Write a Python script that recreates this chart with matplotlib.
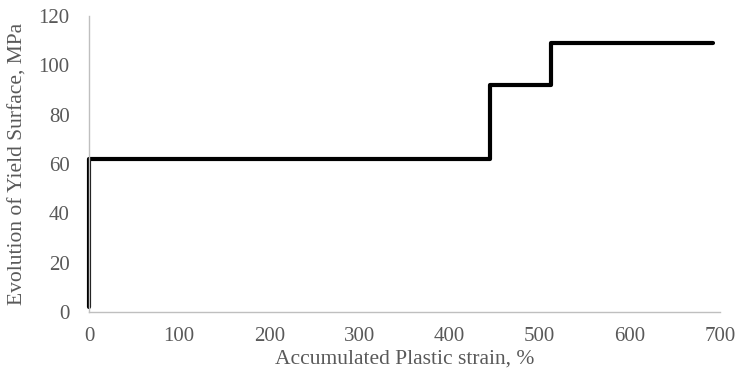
import matplotlib
matplotlib.use("Agg")
import matplotlib.pyplot as plt

# accumulated plastic strain (%) and yield surface (MPa)
strain = [0, 0, 445, 445, 512, 512, 692]
yield_surface = [2, 62, 62, 92, 92, 109, 109]

x_ticks = [0, 100, 200, 300, 400, 500, 600, 700]
y_ticks = [0, 20, 40, 60, 80, 100, 120]

plt.rcParams['font.family'] = ['Liberation Serif', 'DejaVu Serif']
grey = '#595959'

fig = plt.figure(figsize=(7.41, 3.78), dpi=100)
ax = fig.add_axes([0.1201, 0.1746, 0.8516, 0.783])

ax.plot(strain, yield_surface, color='black', linewidth=3.0,
        solid_joinstyle='round', solid_capstyle='round', clip_on=False)

ax.set_xlim(0, 700)
ax.set_ylim(0, 120)
ax.set_xticks(x_ticks)
ax.set_yticks(y_ticks)
ax.tick_params(length=0, labelsize=15, colors=grey)
ax.tick_params(axis='x', pad=11)
ax.tick_params(axis='y', pad=14)

for side in ['top', 'right']:
    ax.spines[side].set_visible(False)
for side in ['left', 'bottom']:
    ax.spines[side].set_color('#BFBFBF')
    ax.spines[side].set_linewidth(1.0)

ax.set_xlabel('Accumulated Plastic strain, %', fontsize=15.5, color=grey, labelpad=2)
ax.set_ylabel('Evolution of Yield Surface, MPa', fontsize=15.5, color=grey, labelpad=8)

fig.savefig('out.png', dpi=100)
